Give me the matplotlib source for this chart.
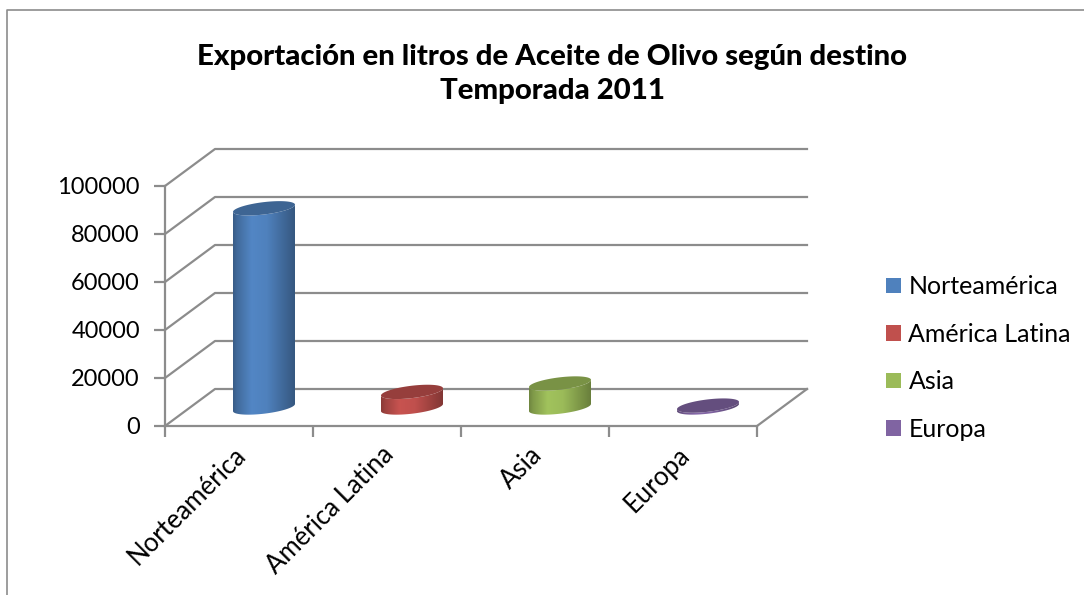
import numpy as np
import matplotlib
matplotlib.use("Agg")
import matplotlib.pyplot as plt
from matplotlib.colors import to_rgb
from matplotlib.patches import Patch, PathPatch, Polygon
from matplotlib.path import Path
from matplotlib.transforms import ScaledTranslation

destinos = ["Norteamérica", "América Latina", "Asia", "Europa"]
litros = [83000, 6500, 10000, 800]
colores = ["#4F81BD", "#C0504D", "#9BBB59", "#8064A2"]
y_ticks = [0, 20000, 40000, 60000, 80000, 100000]

W, H = 1084, 595
GRIS = "#8c8c8c"
plt.rcParams["font.family"] = ["Lato", "DejaVu Sans"]

fig = plt.figure(figsize=(W / 100, H / 100), dpi=100)
# plano frontal del grafico, en pixeles de la imagen
ax = fig.add_axes([165 / W, 1 - 426 / H, 592 / W, 240 / H])
ax.patch.set_visible(False)

# profundidad oblicua pasada a unidades de datos
px_x = 4 / 592
px_y = 100000 / 240
dx = 50 * px_x
dy = 37 * px_y

# paredes y rejilla
for v in y_ticks:
    ax.plot([0, dx, 4 + dx], [v, v + dy, v + dy], color=GRIS, lw=1.6, clip_on=False, zorder=1)
ax.plot([4, 4 + dx], [0, dy], color=GRIS, lw=1.6, clip_on=False, zorder=1)


def elipse(cx, cy, t):
    a = 31 * px_x
    b = 6.2 * px_y
    c = 3.6 * px_y
    return cx + a * np.cos(t), cy + b * np.sin(t) + c * np.cos(t)


def sombra(color, k):
    return np.clip(np.array(to_rgb(color)) * k, 0, 1)


perfil_x = [0, 0.06, 0.3, 0.55, 0.8, 1]
perfil_k = [0.72, 0.82, 1.04, 1.0, 0.82, 0.68]
n = 80
k = np.interp(np.linspace(0, 1, n), perfil_x, perfil_k)

for i, (valor, color) in enumerate(zip(litros, colores)):
    cx = i + 0.5 + dx / 2
    cy = dy / 2
    t_bajo = np.linspace(np.pi, 2 * np.pi, 60)
    t_alto = np.linspace(2 * np.pi, np.pi, 60)
    xb, yb = elipse(cx, cy, t_bajo)
    xa, ya = elipse(cx, cy + valor, t_alto)
    verts = np.column_stack([np.r_[xb, xa], np.r_[yb, ya]])
    cuerpo = Path(np.vstack([verts, verts[:1]]), closed=True)
    grad = np.array([[sombra(color, q) for q in k]])
    im = ax.imshow(grad, extent=[verts[:, 0].min(), verts[:, 0].max(), verts[:, 1].min(), verts[:, 1].max()],
                   aspect="auto", zorder=3, interpolation="bilinear")
    im.set_clip_path(PathPatch(cuerpo, transform=ax.transData))
    xt, yt = elipse(cx, cy + valor, np.linspace(0, 2 * np.pi, 120))
    ax.add_patch(Polygon(np.column_stack([xt, yt]), closed=True, facecolor=sombra(color, 0.78),
                         edgecolor="none", zorder=4, clip_on=False))

ax.set_xlim(0, 4)
ax.set_ylim(0, 100000)
for lado in ["top", "right"]:
    ax.spines[lado].set_visible(False)
for lado in ["left", "bottom"]:
    ax.spines[lado].set_color(GRIS)
    ax.spines[lado].set_linewidth(1.6)

ax.set_yticks(y_ticks)
ax.tick_params(axis="y", length=8, width=1.6, color=GRIS, labelsize=17, pad=10, labelcolor="black")
ax.set_xticks(range(5))
ax.set_xticklabels([])
ax.set_xticks(np.arange(len(destinos)) + 0.5, minor=True)
ax.set_xticklabels(destinos, minor=True, rotation=45, ha="right", rotation_mode="anchor", fontsize=18.5)
ax.tick_params(axis="x", which="major", length=8, width=1.6, color=GRIS)
ax.tick_params(axis="x", which="minor", length=0, pad=10)
mover = ScaledTranslation(-6 / 100, -2 / 100, fig.dpi_scale_trans)
for lab in ax.get_xticklabels(minor=True):
    lab.set_transform(lab.get_transform() + mover)

fig.text(552 / W, 1 - 74 / H, "Exportación en litros de Aceite de Olivo según destino\nTemporada 2011",
         ha="center", va="center", fontsize=21.2, fontweight="black", linespacing=1.4)

handles = [Patch(facecolor=c, edgecolor="none", label=d) for d, c in zip(destinos, colores)]
fig.legend(handles=handles, loc="center left", bbox_to_anchor=(863 / W, 1 - 358 / H), frameon=False,
           fontsize=18, handlelength=0.6, handleheight=0.6, handletextpad=0.32, labelspacing=0.98)

# marco exterior
fig.add_artist(plt.Line2D([7 / W, 7 / W, 1], [0, 1 - 10 / H, 1 - 10 / H], color=GRIS, lw=1.2, transform=fig.transFigure))

fig.savefig("out.png", dpi=100)
